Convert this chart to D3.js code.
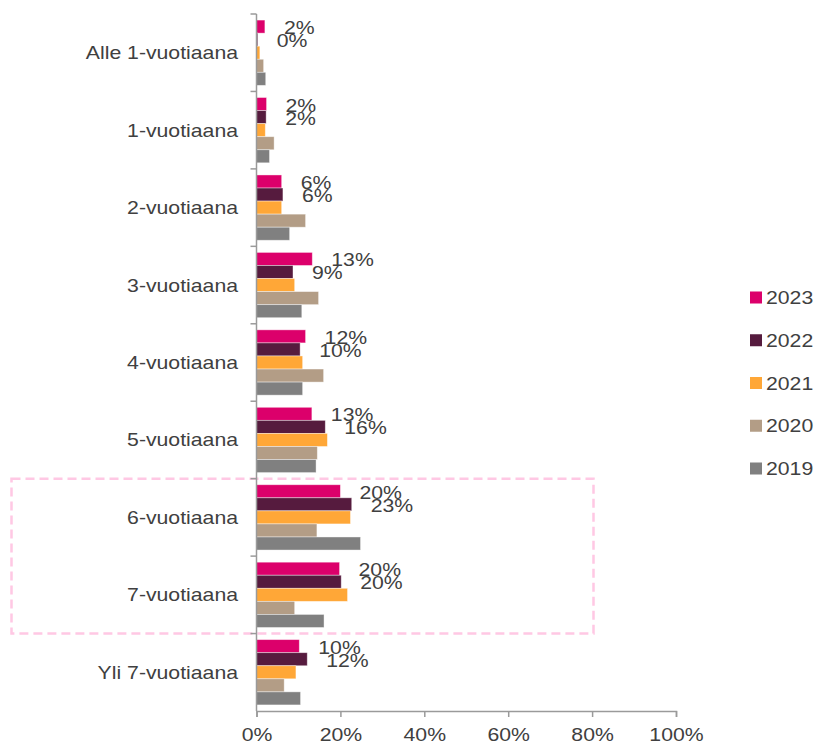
<!DOCTYPE html>
<html><head><meta charset="utf-8">
<script src="https://cdn.jsdelivr.net/npm/d3@7"></script>
<style>body{margin:0;background:#fff}svg{display:block}text{font-family:"Liberation Sans",Arial,sans-serif;fill:#404040}</style>
</head><body>
<script>
const categories = ["Alle 1-vuotiaana","1-vuotiaana","2-vuotiaana","3-vuotiaana","4-vuotiaana","5-vuotiaana","6-vuotiaana","7-vuotiaana","Yli 7-vuotiaana"];
const seriesNames = ["2023","2022","2021","2020","2019"];
const colors = ["#DC006B","#561B3E","#FFA737","#B39D86","#808080"];
const v2023 = [2.0, 2.4, 6.0, 13.3, 11.7, 13.2, 20.0, 19.8, 10.2];
const v2022 = [0.3, 2.3, 6.3, 8.7, 10.4, 16.4, 22.7, 20.2, 12.1];
const v2021 = [0.8, 2.1, 6.0, 9.1, 11.0, 16.9, 22.4, 21.7, 9.4];
const v2020 = [1.7, 4.2, 11.7, 14.8, 16.0, 14.5, 14.4, 9.1, 6.6];
const v2019 = [2.2, 3.1, 7.9, 10.8, 11.0, 14.2, 24.8, 16.1, 10.5];
const xTicks = [0,20,40,60,80,100];
const labeledSeries = ["2023","2022"];

const values = [v2023, v2022, v2021, v2020, v2019];
const W = 816, H = 746;
const SX = 1.18, FS = 18;
const svg = d3.select("body").append("svg").attr("width", W).attr("height", H);

function txt(parent, tx, ty, s, anchor) {
  return parent.append("text")
    .attr("transform", `translate(${tx},${ty}) scale(${SX},1)`)
    .attr("text-anchor", anchor || "start")
    .attr("font-size", FS).text(s);
}

const x = d3.scaleLinear().domain([0,100]).range([256.5,676]);
const y = d3.scaleBand().domain(categories).range([14,711]).paddingInner(0).paddingOuter(0);
const ys = d3.scaleBand().domain(seriesNames).range([0,y.bandwidth()]).paddingInner(0).paddingOuter(0.465);

// highlight dashed box
svg.append("rect")
  .attr("x",11.5).attr("y",y(categories[6])).attr("width",582).attr("height",y.bandwidth()*2)
  .attr("fill","none").attr("stroke","#FFC8E4").attr("stroke-width",2.5).attr("stroke-dasharray","9,5");

// bars
const g = svg.append("g");
categories.forEach((c,i)=>{
  seriesNames.forEach((s,j)=>{
    g.append("rect")
      .attr("x", x(0)).attr("y", y(c)+ys(s))
      .attr("width", x(values[j][i])-x(0)).attr("height", ys.bandwidth())
      .attr("fill", colors[j]).attr("stroke","rgba(255,255,255,0.5)").attr("stroke-width",0.8);
  });
});

// data labels
categories.forEach((c,i)=>{
  labeledSeries.forEach(s=>{
    const j = seriesNames.indexOf(s);
    const val = values[j][i];
    txt(svg, x(val)+19, y(c)+ys(s)+ys.bandwidth()/2+7.5, Math.round(val)+"%");
  });
});

// y axis
const yAxisG = svg.append("g");
yAxisG.append("line").attr("x1",x(0)).attr("x2",x(0)).attr("y1",14).attr("y2",711)
  .attr("stroke","#9a9a9a").attr("stroke-width",1.5);
categories.forEach(c=>{
  const yy = y(c);
  yAxisG.append("line").attr("x1",x(0)-6).attr("x2",x(0)).attr("y1",yy).attr("y2",yy)
    .attr("stroke","#9a9a9a").attr("stroke-width",1.5);
});
categories.forEach(c=>{
  txt(svg, 238, y(c)+y.bandwidth()/2+6.5, c, "end");
});

// x axis
const xAxis = d3.axisBottom(x).tickValues(xTicks).tickFormat(d=>d+"%").tickSize(6).tickPadding(11);
const xg = svg.append("g").attr("transform","translate(0,711)").call(xAxis);
xg.select(".domain").attr("stroke","#9a9a9a").attr("stroke-width",1.5);
xg.selectAll(".tick line").attr("stroke","#9a9a9a").attr("stroke-width",1.5);
xg.selectAll(".tick text").attr("font-size",FS).attr("fill","#404040")
  .attr("font-family","Liberation Sans, Arial, sans-serif")
  .attr("transform",`scale(${SX},1)`).attr("x",0).attr("dy","0.71em").attr("y",11/1);
xg.selectAll(".tick text").each(function(){ d3.select(this).attr("y", 17); });

// legend
const leg = svg.append("g");
seriesNames.forEach((s,j)=>{
  const cy = 297.5 + j*42.75;
  leg.append("rect").attr("x",750).attr("y",cy-6).attr("width",12).attr("height",12).attr("fill",colors[j]);
  txt(leg, 766, cy+6.5, s);
});
</script>
</body></html>
